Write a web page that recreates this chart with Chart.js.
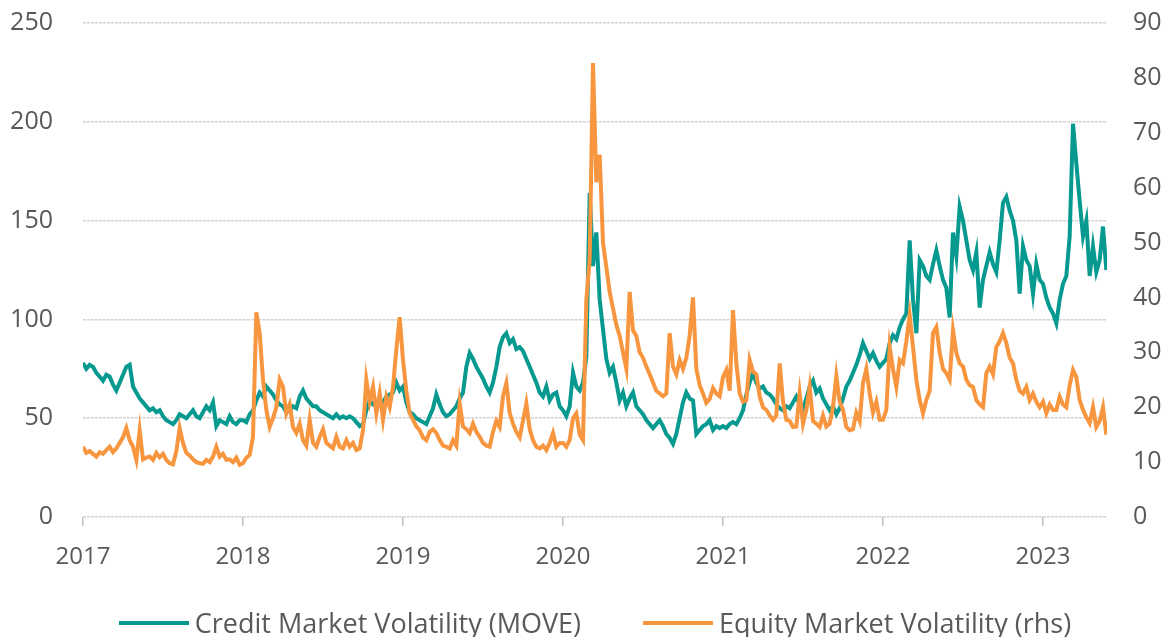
<!DOCTYPE html>
<html>
<head>
<meta charset="utf-8">
<script src="https://cdn.jsdelivr.net/npm/chart.js@4.4.1/dist/chart.umd.min.js"></script>
<style>
  body { margin: 0; background: #fff; }
  #wrap { position: relative; width: 1173px; height: 637px; }
  #legend {
    position: absolute; left: 83px; width: 1024px; top: 604px;
    display: flex; justify-content: center; align-items: center;
    font-family: 'Open Sans', sans-serif; font-size: 27px; color: #595959;
  }
  #legend .item { display: flex; align-items: center; margin: 0 31px; }
  #legend .swatch { width: 70px; height: 4px; margin-right: 6px; }
</style>
</head>
<body>
<div id="wrap">
  <canvas id="volChart" width="1173" height="637"></canvas>
  <div id="legend"></div>
</div>
<script>
// years shown on the x axis, 4 readings per month (48 per year)
const years = [2017, 2018, 2019, 2020, 2021, 2022, 2023];
const perYear = 48;

// Credit Market Volatility (MOVE), left axis
const move2017 = [78,75,77,76, 73,71,69,72, 71,67,64,68, 72,76,77,66, 63,60,58,56, 54,55,53,54,
                  51,49,48,47, 49,52,51,50, 52,54,51,50, 53,56,54,58, 46,49,48,47, 51,48,47,49];
const move2018 = [49,48,52,54, 59,63,61,66, 64,62,59,57, 56,53,54,56, 55,61,64,60, 58,56,56,54,
                  53,52,51,50, 52,50,51,50, 51,50,48,46, 47,54,59,57, 56,59,58,61, 62,63,68,64];
const move2019 = [66,58,53,52, 50,49,48,47, 51,55,62,57, 53,51,52,54, 56,60,63,76, 83,80,76,73,
                  70,66,63,68, 76,86,91,93, 88,90,85,86, 84,80,76,72, 68,63,61,66, 59,62,63,56];
const move2020 = [54,51,56,73, 66,64,68,81, 164,127,144,110, 95,80,73,76, 68,59,63,56, 60,63,56,54,
                  52,49,47,45, 47,49,46,42, 40,37,42,50, 58,63,60,59, 42,44,46,47, 49,44,46,45];
const move2021 = [46,45,47,48, 47,50,54,62, 68,73,68,65, 66,63,62,60, 57,55,54,56, 55,58,61,57,
                  55,60,66,69, 63,65,60,57, 54,56,52,55, 60,66,69,73, 77,82,88,84, 80,83,79,76];
const move2022 = [78,80,88,92, 90,96,100,103, 140,110,93,130, 127,122,120,128, 135,127,120,116, 101,144,132,157,
                  150,140,130,125, 134,106,120,127, 134,128,124,140, 159,162,155,150, 140,113,137,130, 127,113,128,120];
const move2023 = [118,111,106,103, 98,110,118,122, 142,199,179,160, 142,150,122,137, 124,130,147,125];

// Equity Market Volatility (VIX), right axis
const vix2017 = [12.8,11.7,12.0,11.5, 11.0,11.8,11.5,12.2, 12.8,11.8,12.5,13.5, 14.5,16.2,14.0,12.8,
                 10.4,15.8,10.5,10.8, 11.0,10.4,11.7,10.9, 11.5,10.4,9.8,9.6, 12.0,16.2,13.5,11.7,
                 11.2,10.5,10.0,9.8, 9.7,10.4,10.0,11.0, 12.8,11.0,11.5,10.4, 10.5,10.0,10.8,9.5];
const vix2018 = [9.8,10.8,11.3,14.6, 37.3,33.5,25.0,19.5, 16.4,18.0,20.0,25.0, 23.7,18.9,20.5,16.4,
                 15.3,17.0,14.0,13.0, 17.7,13.5,12.8,14.6, 16.0,13.5,13.0,12.5, 14.6,12.8,12.5,14.0,
                 12.8,13.5,12.2,12.5, 15.8,25.0,21.0,23.7, 18.9,22.5,17.7,21.9, 20.0,23.7,30.5,36.4];
const vix2019 = [28.6,23.0,18.9,17.7, 16.5,15.8,14.5,14.0, 15.5,16.0,15.3,14.0, 13.0,12.8,12.5,14.0,
                 13.0,20.7,16.5,16.0, 15.3,17.0,15.5,14.6, 13.5,13.0,12.8,15.5, 17.5,16.4,22.0,24.4,
                 19.0,17.0,15.5,14.5, 17.5,20.7,16.0,14.0, 12.8,12.5,13.0,12.2, 13.5,15.3,12.8,13.5];
const vix2020 = [13.5,12.8,14.0,18.0, 18.9,15.0,14.0,39.5, 46.8,82.7,61.0,66.0, 50.0,45.5,41.0,38.0,
                 35.0,33.0,30.0,27.0, 41.0,34.0,33.0,30.0, 29.0,27.4,26.0,24.5, 23.0,22.5,22.0,22.5,
                 33.5,27.4,26.0,28.6, 27.0,29.0,33.0,40.0, 27.0,24.0,22.5,20.8, 21.5,23.5,22.5,22.0];
const vix2021 = [25.5,26.8,23.0,37.7, 28.0,22.5,21.0,21.3, 28.6,26.5,26.0,22.0, 20.0,19.5,18.5,17.7,
                 18.5,28.0,21.0,17.7, 17.5,16.4,16.5,22.5, 17.0,19.5,23.7,17.5, 17.0,16.4,18.5,16.5,
                 17.0,20.0,25.7,21.0, 19.5,16.4,15.8,16.0, 19.0,17.5,24.4,27.0, 22.5,19.0,21.0,17.7];
const vix2022 = [17.7,19.5,31.0,27.0, 23.7,28.6,28.0,32.0, 36.8,31.0,25.0,21.3, 18.9,21.3,23.0,33.5,
                 34.6,30.0,27.0,26.2, 25.0,34.0,29.9,28.0, 27.4,25.0,24.0,23.7, 21.3,20.5,20.0,26.2,
                 27.4,26.0,31.0,32.0, 33.5,31.7,29.0,28.0, 25.0,23.0,22.5,23.7, 21.3,22.5,21.0,20.0];
const vix2023 = [21.0,18.9,20.5,19.5, 19.5,21.9,20.5,20.0, 24.0,26.8,25.5,21.3, 19.5,18.2,17.1,20.0,
                 16.4,17.5,20.0,15.0];

const moveByYear = [move2017, move2018, move2019, move2020, move2021, move2022, move2023];
const vixByYear = [vix2017, vix2018, vix2019, vix2020, vix2021, vix2022, vix2023];

function toPoints(byYear) {
  const pts = [];
  byYear.forEach((vals, k) => {
    vals.forEach((v, i) => pts.push({ x: years[k] + i / perYear, y: v }));
  });
  return pts;
}

const teal = '#06998f';
const orange = '#f7963f';
const textCol = '#595959';

Chart.defaults.font.family = "'Open Sans', sans-serif";
Chart.defaults.color = textCol;

// keep tick-label overhang from pushing the plot area around
function noPad(s) {
  s.paddingTop = 0;
  s.paddingBottom = 0;
}

const ctx = document.getElementById('volChart').getContext('2d');
const volChart = new Chart(ctx, {
  type: 'line',
  data: {
    datasets: [
      {
        label: 'Credit Market Volatility (MOVE)',
        data: toPoints(moveByYear),
        borderColor: teal,
        backgroundColor: teal,
        borderWidth: 4,
        pointRadius: 0,
        yAxisID: 'y',
        order: 1
      },
      {
        label: 'Equity Market Volatility (rhs)',
        data: toPoints(vixByYear),
        borderColor: orange,
        backgroundColor: orange,
        borderWidth: 4,
        pointRadius: 0,
        yAxisID: 'y1',
        order: 0
      }
    ]
  },
  options: {
    responsive: false,
    animation: false,
    layout: { padding: { top: 23, bottom: 60, left: 0, right: 0 } },
    plugins: {
      legend: { display: false },
      tooltip: { enabled: false }
    },
    scales: {
      x: {
        type: 'linear',
        min: 2017,
        max: 2023.4,
        afterBuildTicks: s => { s.ticks = years.map(y => ({ value: y })); },
        afterFit: s => { s.height = 60; s.paddingLeft = 0; s.paddingRight = 0; },
        ticks: {
          padding: 17,
          maxRotation: 0,
          autoSkip: false,
          font: { size: 24 },
          callback: v => String(v)
        },
        grid: { drawOnChartArea: false, drawTicks: true, tickLength: 9, color: '#bfbfbf', lineWidth: 1.5 },
        border: { display: false }
      },
      y: {
        position: 'left',
        min: 0,
        max: 250,
        afterFit: s => { s.width = 83; noPad(s); },
        ticks: { stepSize: 50, padding: 30, font: { size: 25 } },
        grid: { color: '#d4d4d4', lineWidth: 1.5, drawTicks: false },
        border: { display: false, dash: [3, 1] }
      },
      y1: {
        position: 'right',
        min: 0,
        max: 90,
        afterFit: s => { s.width = 66; noPad(s); },
        ticks: { stepSize: 10, padding: 26, font: { size: 25 } },
        grid: { drawOnChartArea: false, drawTicks: false },
        border: { display: false }
      }
    }
  }
});

// legend in the same order as the datasets
const legendEl = document.getElementById('legend');
volChart.data.datasets.forEach(ds => {
  const item = document.createElement('div');
  item.className = 'item';
  const sw = document.createElement('span');
  sw.className = 'swatch';
  sw.style.background = ds.borderColor;
  const txt = document.createElement('span');
  txt.textContent = ds.label;
  item.appendChild(sw);
  item.appendChild(txt);
  legendEl.appendChild(item);
});
</script>
</body>
</html>
